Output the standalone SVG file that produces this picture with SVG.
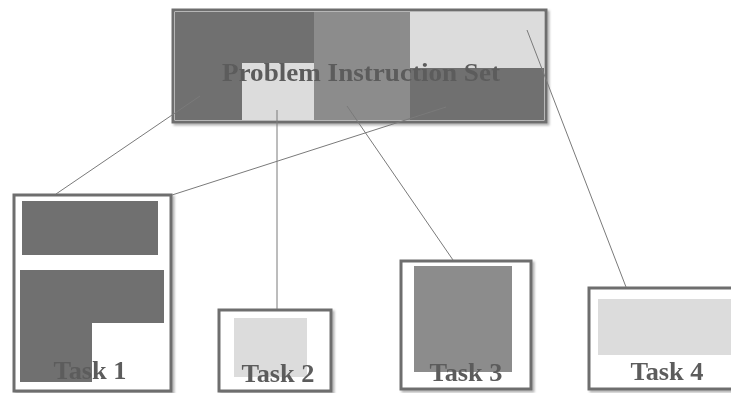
<svg xmlns="http://www.w3.org/2000/svg" width="731" height="393" viewBox="0 0 731 393">
  <defs>
    <filter id="shadow" x="-5%" y="-5%" width="115%" height="115%">
      <feDropShadow dx="2" dy="2" stdDeviation="1.2" flood-color="#000" flood-opacity="0.3"/>
    </filter>
    <filter id="soft" x="-5%" y="-20%" width="110%" height="140%">
      <feGaussianBlur stdDeviation="0.5"/>
    </filter>
  </defs>
  <style>
    .frame { fill: #ffffff; stroke: #6e6e6e; stroke-width: 3; filter: url(#shadow); }
    .dark { fill: #707070; }
    .mid { fill: #8c8c8c; }
    .light { fill: #dcdcdc; }
    .link { stroke: #7a7a7a; stroke-width: 1; fill: none; }
    .label { font-family: "Liberation Serif", "Times New Roman", serif; font-size: 26px; font-weight: bold; fill: #5c5c5c; text-anchor: middle; filter: url(#soft); }
  </style>
  <rect width="731" height="393" fill="#ffffff"/>

  <!-- instruction set -->
  <g id="instruction-set">
    <rect class="frame" x="173" y="10" width="373" height="112"/>
    <rect class="dark" x="175" y="12" width="139" height="108"/>
    <rect class="light" x="242" y="63" width="72" height="57"/>
    <rect class="mid" x="314" y="12" width="96" height="108"/>
    <rect class="light" x="410" y="12" width="134" height="56"/>
    <rect class="dark" x="410" y="68" width="134" height="52"/>
    <text class="label" x="361" y="81" textLength="278" lengthAdjust="spacingAndGlyphs">Problem Instruction Set</text>
  </g>

  <!-- task 1 -->
  <g id="task1">
    <rect class="frame" x="14" y="195" width="157" height="196"/>
    <rect class="dark" x="22" y="201" width="136" height="54"/>
    <path class="dark" d="M20 270 H164 V323 H92 V382 H20 Z"/>
    <text class="label" x="90" y="379" textLength="73" lengthAdjust="spacingAndGlyphs">Task 1</text>
  </g>

  <!-- task 2 -->
  <g id="task2">
    <rect class="frame" x="219" y="310" width="112" height="81"/>
    <rect class="light" x="234" y="318" width="73" height="59"/>
    <text class="label" x="278" y="382" textLength="73" lengthAdjust="spacingAndGlyphs">Task 2</text>
  </g>

  <!-- task 3 -->
  <g id="task3">
    <rect class="frame" x="401" y="261" width="130" height="128"/>
    <rect class="mid" x="414" y="266" width="98" height="106"/>
    <text class="label" x="466" y="381" textLength="73" lengthAdjust="spacingAndGlyphs">Task 3</text>
  </g>

  <!-- task 4 -->
  <g id="task4">
    <rect class="frame" x="589" y="288" width="150" height="101"/>
    <rect class="light" x="598" y="299" width="140" height="56"/>
    <text class="label" x="667" y="380" textLength="73" lengthAdjust="spacingAndGlyphs">Task 4</text>
  </g>

  <!-- connectors -->
  <g id="connectors">
    <line class="link" x1="200" y1="96" x2="56" y2="194"/>
    <line class="link" x1="446" y1="107" x2="172" y2="195"/>
    <line class="link" x1="277" y1="110" x2="277" y2="309" stroke="#6a6a6a" stroke-width="2"/>
    <line class="link" x1="347" y1="106" x2="453" y2="260"/>
    <line class="link" x1="527" y1="30" x2="626" y2="287"/>
  </g>
</svg>
